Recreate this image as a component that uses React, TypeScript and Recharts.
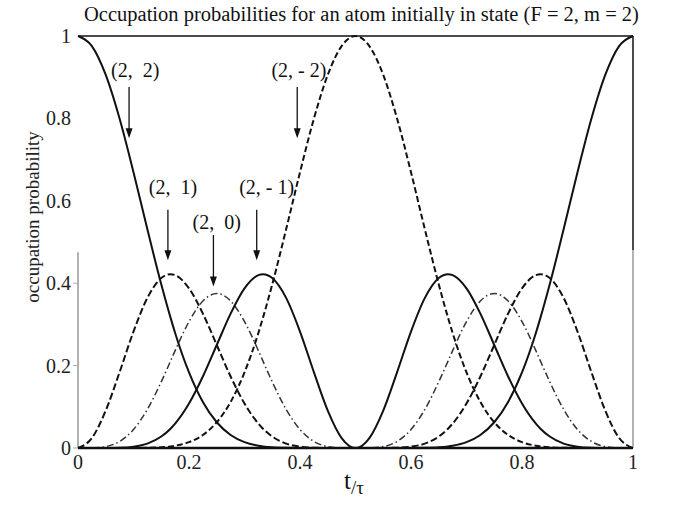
import React from 'react';
import { LineChart, Line, XAxis, YAxis, ReferenceLine, ReferenceDot } from 'recharts';

const SERIF = '"Liberation Serif", "DejaVu Serif", serif';

// time in units of tau
const tValues = [
  0, 0.025, 0.05, 0.075, 0.1, 0.125, 0.15, 0.1667, 0.175, 0.2, 0.225, 0.25, 0.275, 0.3, 0.325,
  0.3333, 0.35, 0.375, 0.4, 0.425, 0.45, 0.475, 0.5, 0.525, 0.55, 0.575, 0.6, 0.625, 0.65,
  0.6667, 0.675, 0.7, 0.725, 0.75, 0.775, 0.8, 0.825, 0.8333, 0.85, 0.875, 0.9, 0.925, 0.95,
  0.975, 1,
];

// occupation of (2, 2)
const p22 = [
  1, 0.9756, 0.9056, 0.7992, 0.6693, 0.5308, 0.3972, 0.3164, 0.2793, 0.1835, 0.1118, 0.0625,
  0.0316, 0.0142, 0.0056, 0.0039, 0.0018, 0.0005, 0.0001, 0, 0, 0, 0, 0, 0, 0, 0.0001, 0.0005,
  0.0018, 0.0039, 0.0056, 0.0142, 0.0316, 0.0625, 0.1118, 0.1835, 0.2793, 0.3164, 0.3972,
  0.5308, 0.6693, 0.7992, 0.9056, 0.9756, 1,
];

// occupation of (2, 1)
const p21 = [
  0, 0.0242, 0.0909, 0.1843, 0.2827, 0.3643, 0.4125, 0.4219, 0.4196, 0.3875, 0.3262, 0.25,
  0.1735, 0.108, 0.0592, 0.0469, 0.0278, 0.0107, 0.0032, 0.0006, 0.0001, 0, 0, 0, 0.0001,
  0.0006, 0.0032, 0.0107, 0.0278, 0.0469, 0.0592, 0.108, 0.1735, 0.25, 0.3262, 0.3875, 0.4196,
  0.4219, 0.4125, 0.3643, 0.2827, 0.1843, 0.0909, 0.0242, 0,
];

// occupation of (2, 0)
const p20 = [
  0, 0.0002, 0.0034, 0.0159, 0.0448, 0.0938, 0.1606, 0.2109, 0.2363, 0.3068, 0.3569, 0.375,
  0.3569, 0.3068, 0.2363, 0.2109, 0.1606, 0.0938, 0.0448, 0.0159, 0.0034, 0.0002, 0, 0.0002,
  0.0034, 0.0159, 0.0448, 0.0938, 0.1606, 0.2109, 0.2363, 0.3068, 0.3569, 0.375, 0.3569,
  0.3068, 0.2363, 0.2109, 0.1606, 0.0938, 0.0448, 0.0159, 0.0034, 0.0002, 0,
];

// occupation of (2, -1)
const p2m1 = [
  0, 0, 0.0001, 0.0006, 0.0032, 0.0107, 0.0278, 0.0469, 0.0592, 0.108, 0.1735, 0.25, 0.3262,
  0.3875, 0.4196, 0.4219, 0.4125, 0.3643, 0.2827, 0.1843, 0.0909, 0.0242, 0, 0.0242, 0.0909,
  0.1843, 0.2827, 0.3643, 0.4125, 0.4219, 0.4196, 0.3875, 0.3262, 0.25, 0.1735, 0.108, 0.0592,
  0.0469, 0.0278, 0.0107, 0.0032, 0.0006, 0.0001, 0, 0,
];

// occupation of (2, -2)
const p2m2 = [
  0, 0, 0, 0, 0.0001, 0.0005, 0.0018, 0.0039, 0.0056, 0.0142, 0.0316, 0.0625, 0.1118, 0.1835,
  0.2793, 0.3164, 0.3972, 0.5308, 0.6693, 0.7992, 0.9056, 0.9756, 1, 0.9756, 0.9056, 0.7992,
  0.6693, 0.5308, 0.3972, 0.3164, 0.2793, 0.1835, 0.1118, 0.0625, 0.0316, 0.0142, 0.0056,
  0.0039, 0.0018, 0.0005, 0.0001, 0, 0, 0, 0,
];

const xTicks = [0, 0.2, 0.4, 0.6, 0.8, 1];
const yTicks = [0, 0.2, 0.4, 0.6, 0.8, 1];

// state labels with arrows pointing at the curves
const stateNames = ['(2,  2)', '(2, - 2)', '(2,  1)', '(2,  0)', '(2, - 1)'];
const nameT = [0.103, 0.398, 0.171, 0.25, 0.34];
const nameP = [0.917, 0.917, 0.633, 0.549, 0.633];
const arrowT = [0.092, 0.395, 0.162, 0.244, 0.322];
const arrowTop = [0.876, 0.876, 0.578, 0.517, 0.578];
const arrowTip = [0.752, 0.752, 0.456, 0.392, 0.456];

const data = tValues.map((t, i) => ({
  t,
  p22: p22[i],
  p21: p21[i],
  p20: p20[i],
  p2m1: p2m1[i],
  p2m2: p2m2[i],
}));

const fmt = (v: number) => (v === 0 || v === 1 ? String(v) : v.toFixed(1));

const Arrow = (props: any) => {
  const { x1, y1, x2, y2 } = props;
  return (
    <g>
      <line x1={x1} y1={y1} x2={x2} y2={y2 - 6} stroke="#111" strokeWidth={1.3} />
      <path d={`M${x2 - 3.5},${y2 - 10} L${x2},${y2} L${x2 + 3.5},${y2 - 10} Z`} fill="#111" />
    </g>
  );
};

const nameShape = (text: string) => (props: any) => (
  <text
    x={props.cx}
    y={props.cy}
    textAnchor="middle"
    dominantBaseline="central"
    fontFamily={SERIF}
    fontSize={20}
    fill="#111"
    xmlSpace="preserve"
    style={{ whiteSpace: 'pre' }}
  >
    {text}
  </text>
);

// y tick: grey tick mark only on the lower part, where the axis line is visible
const YTick = (props: any) => {
  const { x, y, payload } = props;
  return (
    <g>
      {payload.value < 0.5 && <line x1={x + 2} y1={y} x2={x + 7} y2={y} stroke="#aaa" />}
      <text x={x} y={y} dy="0.35em" textAnchor="end" fontFamily={SERIF} fontSize={20} fill="#222">
        {fmt(payload.value)}
      </text>
    </g>
  );
};

const App = () => {
  return (
    <div style={{ position: 'absolute', left: 0, top: 0, width: 693, height: 506, background: '#fff' }}>
      <div
        style={{
          position: 'absolute',
          top: 0,
          left: 15,
          width: 693,
          textAlign: 'center',
          fontFamily: SERIF,
          fontSize: 20.5,
          lineHeight: '28px',
          color: '#111',
          whiteSpace: 'nowrap',
        }}
      >
        Occupation probabilities for an atom initially in state (F = 2, m = 2)
      </div>
      <LineChart width={693} height={506} data={data} margin={{ top: 36, right: 60, bottom: 28, left: 38 }}>
        <XAxis
          dataKey="t"
          type="number"
          domain={[0, 1]}
          ticks={xTicks}
          tickFormatter={fmt}
          height={30}
          axisLine={{ stroke: '#111', strokeWidth: 2.5 }}
          tickLine={false}
          tickSize={5}
          tick={{ fontFamily: SERIF, fontSize: 20, fill: '#222' }}
          label={{
            content: () => (
              <text x={344} y={489} fontFamily={SERIF} fill="#111">
                <tspan fontSize={25}>t</tspan>
                <tspan fontSize={19} dy={5}>/τ</tspan>
              </text>
            ),
          }}
        />
        <YAxis
          type="number"
          domain={[0, 1]}
          ticks={yTicks}
          width={40}
          axisLine={false}
          tickLine={false}
          tickSize={5}
          tick={YTick}
          label={{
            content: () => (
              <text
                x={39}
                y={217}
                transform="rotate(-90 39 217)"
                textAnchor="middle"
                fontFamily={SERIF}
                fontSize={19}
                fill="#222"
              >
                occupation probability
              </text>
            ),
          }}
        />
        {/* frame */}
        <ReferenceLine segment={[{ x: 0, y: 1 }, { x: 1, y: 1 }]} stroke="#111" strokeWidth={1.5} />
        <ReferenceLine segment={[{ x: 1, y: 0.48 }, { x: 1, y: 1 }]} stroke="#111" strokeWidth={1.5} />
        <ReferenceLine segment={[{ x: 1, y: 0 }, { x: 1, y: 0.48 }]} stroke="#999" strokeWidth={1.5} />
        <ReferenceLine segment={[{ x: 0, y: 0 }, { x: 0, y: 0.475 }]} stroke="#999" strokeWidth={1.5} />

        <Line dataKey="p22" type="monotone" stroke="#111" strokeWidth={2} dot={false} isAnimationActive={false} />
        <Line dataKey="p2m2" type="monotone" stroke="#111" strokeWidth={2} strokeDasharray="6 3" dot={false} isAnimationActive={false} />
        <Line dataKey="p21" type="monotone" stroke="#111" strokeWidth={2} strokeDasharray="7 3" dot={false} isAnimationActive={false} />
        <Line dataKey="p20" type="monotone" stroke="#333" strokeWidth={1.5} strokeDasharray="7 3 1.5 3" dot={false} isAnimationActive={false} />
        <Line dataKey="p2m1" type="monotone" stroke="#111" strokeWidth={2} dot={false} isAnimationActive={false} />

        {stateNames.map((name, i) => (
          <ReferenceLine
            key={`arrow-${i}`}
            segment={[{ x: arrowT[i], y: arrowTop[i] }, { x: arrowT[i], y: arrowTip[i] }]}
            shape={Arrow}
          />
        ))}
        {stateNames.map((name, i) => (
          <ReferenceDot key={`name-${i}`} x={nameT[i]} y={nameP[i]} r={0} shape={nameShape(name)} />
        ))}
      </LineChart>
    </div>
  );
};

export default App;
